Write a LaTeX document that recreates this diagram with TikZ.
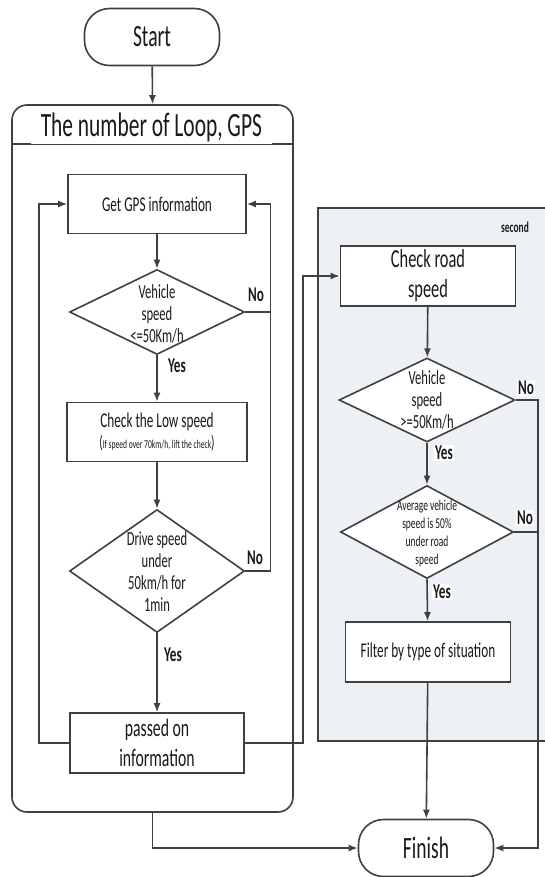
\documentclass[tikz,border=0pt]{standalone}
\usepackage{fontspec}
\setmainfont{Carlito}[FakeStretch=0.63]
\usetikzlibrary{arrows.meta, shapes.geometric, calc}
\definecolor{cline}{HTML}{404040}
\definecolor{ctext}{HTML}{1A1A1A}
\definecolor{cpanel}{HTML}{EDF0F5}
\newcommand{\fsz}[2]{\fontsize{#1}{#2}\selectfont}
\tikzset{
  every picture/.style={line width=1.6pt, cline, text=ctext},
  terminal/.style={draw, fill=white, rounded corners=25pt, minimum width=135pt, minimum height=57pt, font=\fsz{31}{34}},
  procbox/.style={draw, fill=white, minimum width=#1, minimum height=59pt, align=center, inner sep=2pt, font=\fsz{21}{24}},
  procbox/.default=178pt,
  decision/.style={draw, fill=white, diamond, inner sep=0pt},
  dtext/.style={align=center, font=\fsz{20}{22}},
  yesno/.style={fill=white, inner sep=1pt, font=\bfseries\fsz{21}{22}},
  arrow/.style={-{Latex[length=9pt, width=7pt]}},
}

\begin{document}
\begin{tikzpicture}[x=1pt, y=-1pt]
  \useasboundingbox (0,0) rectangle (545,877);
  % containers
  \node[draw, fill=cpanel, minimum width=240pt, minimum height=533pt, anchor=north west] (panel) at (317,207) {};
  \node[font=\bfseries\fsz{15}{16}] (second) at (515,227) {second};
  \node[draw, rounded corners=15pt, minimum width=281pt, minimum height=707pt] (loop) at (152.5,458.5) {};
  \coordinate (sep) at (0,144);
  \draw (sep -| loop.west) -- (sep -| loop.east);
  \node[fill=white, inner xsep=10pt, inner ysep=2pt, anchor=base west, font=\fsz{34}{36}] (title) at (30,137) {The number of Loop, GPS};
  % terminals
  \node[terminal] (start) at (152,37) {Start};
  \node[terminal] (finish) at (426,848) {Finish};
  % left column
  \node[procbox] (gps) at (157,204) {Get GPS information};
  \node[decision, minimum width=175pt, minimum height=85pt] (d1) at (157,312) {};
  \node[dtext] at (157,314) {Vehicle\\speed\\<=50Km/h};
  \node[procbox=180pt] (low) at (157,432) {Check the Low speed\\[-3pt]{\fsz{12}{16}{\fsz{18}{16}(}If speed over 70km/h, lift the check{\fsz{18}{16})}}};
  \node[decision, minimum width=175pt, minimum height=123pt] (d2) at (157,571) {};
  \node[dtext] at (157,572) {Drive speed\\under\\50km/h for\\1min};
  \node[procbox=174pt, minimum height=60pt, font=\fsz{25}{30}] (pass) at (157,743) {passed on\\information};
  % right column
  \node[procbox=175pt, minimum height=60pt, font=\fsz{26}{30}] (road) at (428,276) {Check road\\speed};
  \node[decision, minimum width=176pt, minimum height=84pt] (d3) at (427,400) {};
  \node[dtext] at (427,400) {Vehicle\\speed\\>=50Km/h};
  \node[decision, minimum width=173pt, minimum height=93pt] (d4) at (427,532) {};
  \node[dtext, font=\fsz{15}{18}] at (427,533) {Average vehicle\\speed is 50\%\\under road\\speed};
  \node[procbox=165pt, minimum height=60pt] (filt) at (428,652) {Filter by type of situation};
  % connectors
  \draw[arrow] (start) -- (loop.north);
  \draw[arrow] (gps) -- (d1);
  \draw[arrow] (d1.south) -- (low);
  \draw[arrow] (low) -- (d2);
  \draw[arrow] (d2.south) -- (pass);
  \draw[arrow] (d1.east) -- ++(25,0) coordinate (rx) |- (gps.east);
  \draw (d2.east) -| (rx);
  \draw[arrow] (pass.west) -- ++(-30,0) |- (gps.west);
  \draw[arrow] (pass.east) -- ++(58,0) |- (road.west);
  \draw[arrow] (road) -- (d3);
  \draw[arrow] (d3.south) -- (d4);
  \draw[arrow] (d4.south) -- (filt);
  \draw[arrow] (filt) -- (finish);
  \draw[arrow] (d3.east) -- ++(22,0) coordinate (ry) |- (finish.east);
  \draw (d4.east) -- (d4.east -| ry);
  \draw[arrow] (loop.south) |- (finish.west);
  % labels
  \node[yesno] at (256,295) {No};
  \node[yesno] at (255,558) {No};
  \node[yesno] at (526,388) {No};
  \node[yesno] at (525,518) {No};
  \node[yesno] at (177,366) {Yes};
  \node[yesno] at (173,655) {Yes};
  \node[yesno] at (444,453) {Yes};
  \node[yesno] at (442,592) {Yes};
\end{tikzpicture}
\end{document}
